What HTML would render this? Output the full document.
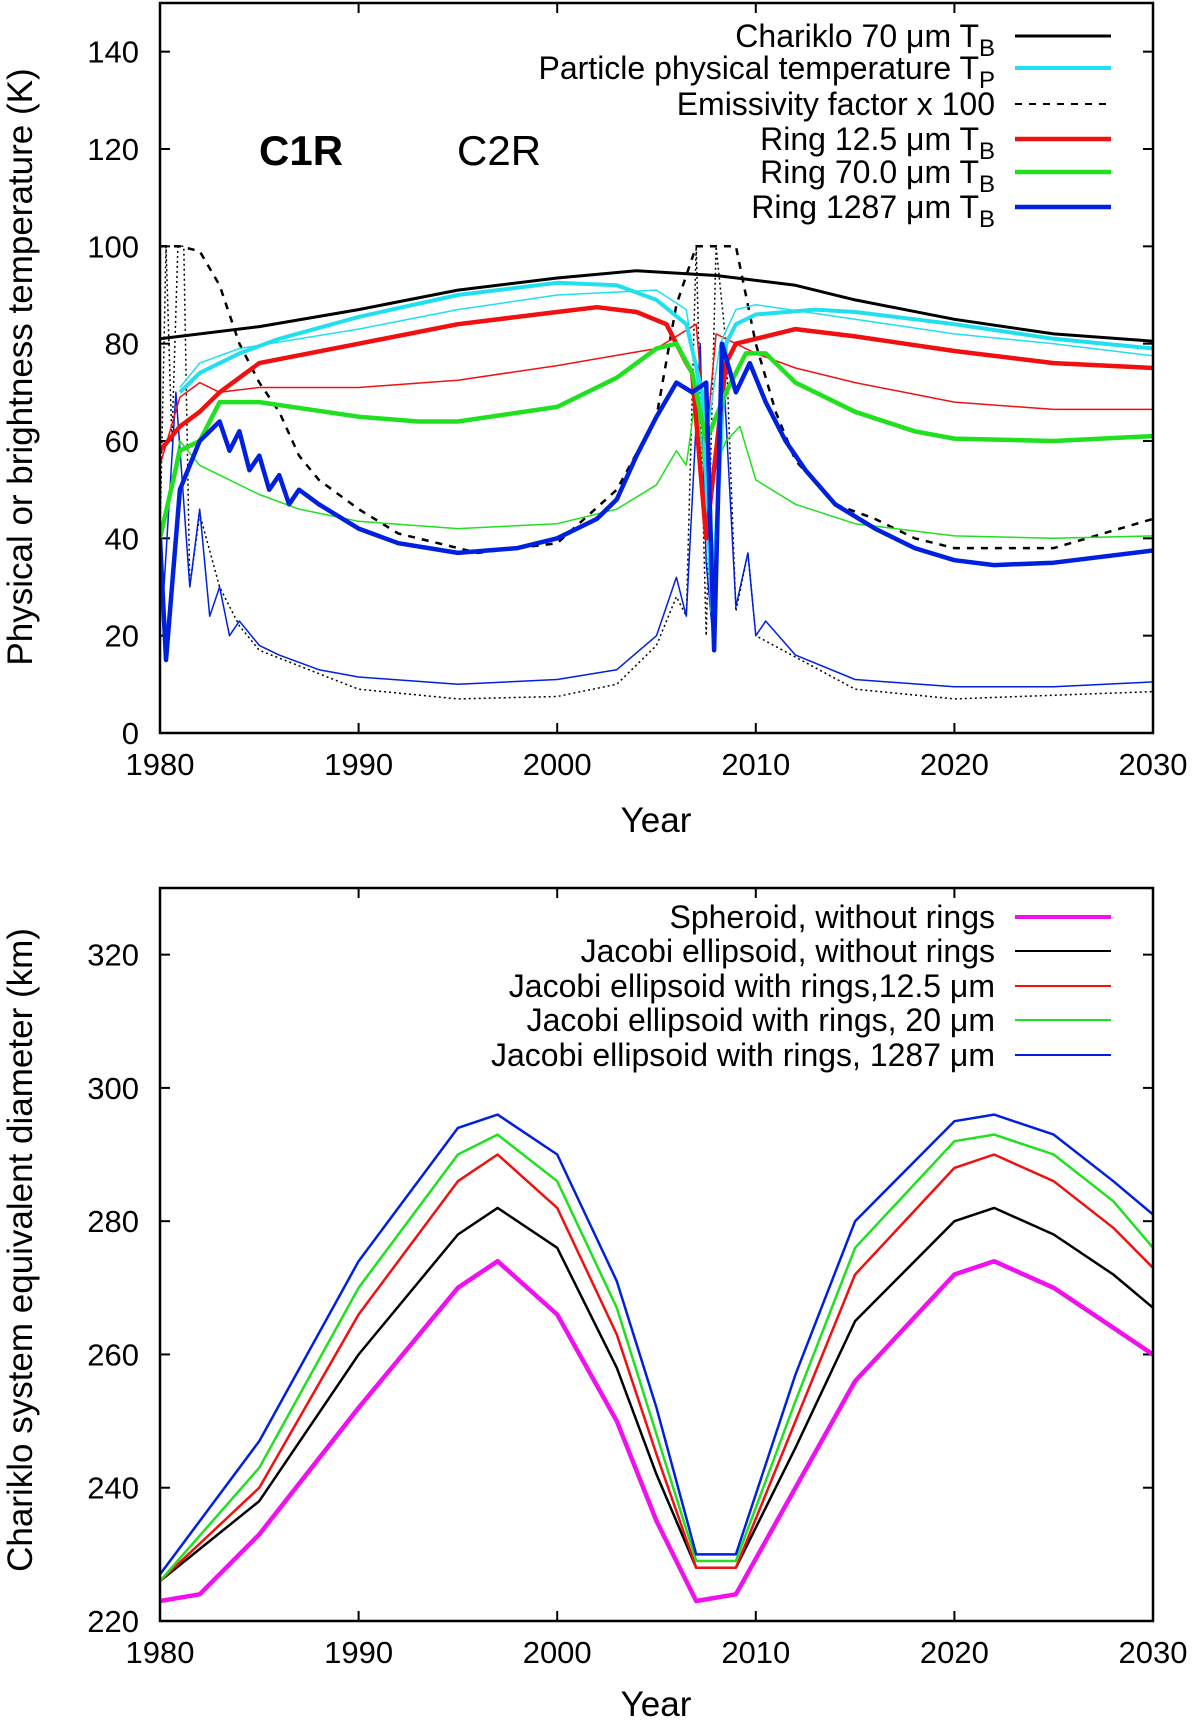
<!DOCTYPE html>
<html><head><meta charset="utf-8"><style>
body{margin:0;background:#fff}
svg{display:block;font-family:"Liberation Sans",sans-serif}
</style></head><body>
<svg id="chart" width="1200" height="1721" viewBox="0 0 1200 1721"></svg>
<script>
// ---- Top panel data ----
const topXTicks=[1980,1990,2000,2010,2020,2030];
const topYTicks=[0,20,40,60,80,100,120,140];
const charikloX=[1980,1985,1990,1995,2000,2004,2008,2012,2015,2020,2025,2030];
const charikloY=[81,83.5,87,91,93.5,95,94,92,89,85,82,80.5];
const tpThickX=[1981,1982,1984,1986,1990,1995,2000,2003,2005,2006.5,2007.3,2007.8,2008.5,2009,2010,2013,2015,2020,2025,2030];
const tpThickY=[70,74,78,81,85.5,90,92.5,92,89,84,70,25,80,84,86,87,86.5,84,81,79];
const tpThinX=[1981,1982,1984,1990,1995,2000,2005,2006.5,2007.5,2008.2,2009,2010,2015,2020,2025,2030];
const tpThinY=[71,76,79,83,87,90,91,87,60,80,87,88,85,82,80,77.5];
const redThickX=[1980,1981,1982,1983,1985,1990,1995,2000,2002,2004,2005.5,2006.5,2006.8,2007.5,2008.5,2009,2010,2012,2015,2020,2025,2030];
const redThickY=[58,63,66,70,76,80,84,86.5,87.5,86.5,84,76,74,40,76,80,81,83,81.5,78.5,76,75];
const redThinX=[1980,1981,1982,1983,1985,1990,1995,2000,2005,2007,2007.5,2008,2009,2010,2012,2015,2020,2025,2030];
const redThinY=[55,69,72,70,71,71,72.5,75.5,79,84,60,82,80,78,75,72,68,66.5,66.5];
const greenThickX=[1980,1981,1982,1983,1985,1990,1993,1995,2000,2003,2005,2006,2006.8,2007.5,2008.5,2009.5,2010.5,2012,2015,2018,2020,2025,2030];
const greenThickY=[40,58,60,68,68,65,64,64,67,73,79,80,74,60,70,78,78,72,66,62,60.5,60,61];
const greenThinX=[1980,1981,1982,1983,1985,1987,1990,1995,2000,2003,2005,2006,2006.5,2007,2007.5,2008.5,2009.2,2010,2012,2015,2020,2025,2030];
const greenThinY=[40,60,55,53,49,46,43.5,42,43,46,51,58,55,70,50,60,63,52,47,43,40.5,40,40.5];
const blueThickX=[1980,1980.3,1981,1982,1983,1983.5,1984,1984.5,1985,1985.5,1986,1986.5,1987,1988,1990,1992,1995,1998,2000,2002,2003,2004,2005,2006,2006.8,2007.5,2007.9,2008.3,2009,2009.7,2010.5,2011.5,2012.5,2014,2016,2018,2020,2022,2025,2030];
const blueThickY=[40,15,50,60,64,58,62,54,57,50,53,47,50,47,42,39,37,38,40,44,48,57,65,72,70,72,17,80,70,76,68,60,54,47,42,38,35.5,34.5,35,37.5];
const blueThinX=[1980,1980.2,1980.8,1981.5,1982,1982.5,1983,1983.5,1984,1985,1986,1988,1990,1995,2000,2003,2005,2006,2006.5,2007.2,2007.5,2007.9,2008.3,2009,2009.6,2010,2010.5,2012,2015,2020,2025,2030];
const blueThinY=[40,30,70,30,46,24,30,20,23,18,16,13,11.5,10,11,13,20,32,24,80,35,17,80,26,37,20,23,16,11,9.5,9.5,10.5];
const dotX=[1980,1980.3,1980.6,1980.9,1981.2,1981.5,1982,1983,1984,1985,1990,1995,2000,2003,2005,2006,2006.5,2007,2007.5,2008,2008.5,2009,2009.6,2010,2015,2020,2030];
const dotY=[40,100,60,100,100,30,45,30,22,17,9,7,7.5,10,18,28,24,100,20,100,80,25,37,20,9,7,8.5];
const emisX=[1980,1981,1982,1983,1984,1985,1986,1987,1988,1990,1992,1994,1996,2000,2003,2005,2006,2007,2008,2009,2010,2011,2012,2014,2016,2018,2020,2025,2030];
const emisY=[100,100,99,92,80,72,66,57,52,46,41,39,37,39,50,65,88,100,100,100,80,66,56,47,44,40,38,38,44];
// ---- Bottom panel data ----
const botYTicks=[220,240,260,280,300,320];
const magX=[1980,1982,1985,1990,1995,1997,2000,2003,2005,2007,2009,2012,2015,2020,2022,2025,2028,2030];
const magY=[223,224,233,252,270,274,266,250,235,223,224,240,256,272,274,270,264,260];
const jacX=[1980,1985,1990,1995,1997,2000,2003,2005,2007,2009,2012,2015,2020,2022,2025,2028,2030];
const jacY=[226,238,260,278,282,276,258,242,228,228,246,265,280,282,278,272,267];
const r125Y=[226,240,266,286,290,282,263,245,228,228,250,272,288,290,286,279,273];
const r20Y=[226,243,270,290,293,286,267,248,229,229,253,276,292,293,290,283,276];
const r1287Y=[227,247,274,294,296,290,271,252,230,230,257,280,295,296,293,286,281];

const NS="http://www.w3.org/2000/svg";
const svg=document.getElementById('chart');
function mk(tag,attrs,parent){const e=document.createElementNS(NS,tag);for(const k in attrs)e.setAttribute(k,attrs[k]);(parent||svg).appendChild(e);return e;}
const L=160,R=1153;
const xS=v=>L+(v-1980)/50*(R-L);
function panel(name,yMin,yMax,top,bot,yTicks){
  const g=mk('g',{});
  
  
  const yS=v=>bot-(v-yMin)/(yMax-yMin)*(bot-top);
  const clip=mk('clipPath',{id:'c'+name},g);mk('rect',{x:L,y:top,width:R-L,height:bot-top},clip);
  topXTicks.forEach(t=>{
    const x=xS(t);
    mk('line',{x1:x,y1:bot,x2:x,y2:bot-10,stroke:'#000','stroke-width':2},g);
    mk('line',{x1:x,y1:top,x2:x,y2:top+10,stroke:'#000','stroke-width':2},g);
    const tx=mk('text',{x:x,y:bot+42,'font-size':31,'text-anchor':'middle'},g);tx.textContent=t;
    
    
  });
  yTicks.forEach(t=>{
    const y=yS(t);
    mk('line',{x1:L,y1:y,x2:L+10,y2:y,stroke:'#000','stroke-width':2},g);
    mk('line',{x1:R,y1:y,x2:R-10,y2:y,stroke:'#000','stroke-width':2},g);
    const tx=mk('text',{x:139,y:y+11,'font-size':31,'text-anchor':'end'},g);tx.textContent=t;
    
    
  });
  return {g,yS,clip:'url(#c'+name+')'};
}
function series(p,name,xs,ys,color,w,dash){
  const d=xs.map((x,i)=>(i?'L':'M')+xS(x).toFixed(1)+' '+p.yS(ys[i]).toFixed(1)).join(' ');
  const a={d:d,fill:'none',stroke:color,'stroke-width':w,'clip-path':p.clip,'stroke-linejoin':'round'};
  if(dash)a['stroke-dasharray']=dash;
  const e=mk('path',a,p.g);
  
  
}
function legend(p,y,label,color,w,dash,name){
  const t=mk('text',{x:995,y:y+11,'font-size':32,'text-anchor':'end','textLength':0},p.g);t.removeAttribute('textLength');t.innerHTML=label;
  
  
  const a={x1:1015,y1:y,x2:1111,y2:y,stroke:color,'stroke-width':w};if(dash)a['stroke-dasharray']=dash;
  const l=mk('line',a,p.g);
  
  
}
// top
const T=panel('top-panel',0,150,3,733,topYTicks);
series(T,'emissivity-line',emisX,emisY,'#000',2.5,'7,7');
series(T,'dotted-line',dotX,dotY,'#000',1.5,'2,3');
series(T,'ring-1287-thin',blueThinX,blueThinY,'#0020e0',1.5);
series(T,'ring-70-thin',greenThinX,greenThinY,'#20e020',1.5);
series(T,'ring-12-thin',redThinX,redThinY,'#f01010',1.5);
series(T,'tp-thin',tpThinX,tpThinY,'#20e0f0',1.5);
series(T,'chariklo-70',charikloX,charikloY,'#000',3);
series(T,'tp-thick',tpThickX,tpThickY,'#20e0f0',4);
series(T,'ring-12-thick',redThickX,redThickY,'#f01010',4.5);
series(T,'ring-70-thick',greenThickX,greenThickY,'#20e020',4.5);
series(T,'ring-1287-thick',blueThickX,blueThickY,'#0020e0',4.5);
mk('rect',{x:L,y:3,width:R-L,height:730,fill:'none',stroke:'#000','stroke-width':2.5},T.g);
const sub=s=>'<tspan font-size="24" dy="9">'+s+'</tspan>';
legend(T,36,'Chariklo 70 μm T'+sub('B'),'#000',3,null,'legend-chariklo');
legend(T,68,'Particle physical temperature T'+sub('P'),'#20e0f0',4,null,'legend-tp');
legend(T,104,'Emissivity factor x 100','#000',2,'7,7','legend-emissivity');
legend(T,139,'Ring 12.5 μm T'+sub('B'),'#f01010',4.5,null,'legend-ring12');
legend(T,172,'Ring 70.0 μm T'+sub('B'),'#20e020',4.5,null,'legend-ring70');
legend(T,207,'Ring 1287 μm T'+sub('B'),'#0020e0',4.5,null,'legend-ring1287');
let t=mk('text',{x:259,y:165,'font-size':42,'font-weight':'bold'},T.g);t.textContent='C1R';


t=mk('text',{x:457,y:165,'font-size':42},T.g);t.textContent='C2R';


t=mk('text',{x:656,y:832,'font-size':35,'text-anchor':'middle'},T.g);t.textContent='Year';


t=mk('text',{x:0,y:0,'font-size':35,'text-anchor':'middle',transform:'translate(32,367) rotate(-90)'},T.g);t.textContent='Physical or brightness temperature (K)';


// bottom
const B=panel('bottom-panel',220,330,888,1621,botYTicks);
series(B,'spheroid-line',magX,magY,'#f010f0',4.5);
series(B,'jacobi-line',jacX,jacY,'#000',2.5);
series(B,'jacobi-12-line',jacX,r125Y,'#f01010',2.5);
series(B,'jacobi-20-line',jacX,r20Y,'#20e020',2.5);
series(B,'jacobi-1287-line',jacX,r1287Y,'#0020e0',2.5);
mk('rect',{x:L,y:888,width:R-L,height:733,fill:'none',stroke:'#000','stroke-width':2.5},B.g);
legend(B,917,'Spheroid, without rings','#f010f0',4,null,'legend-spheroid');
legend(B,951,'Jacobi ellipsoid, without rings','#000',2,null,'legend-jacobi');
legend(B,986,'Jacobi ellipsoid with rings,12.5 μm','#f01010',2,null,'legend-jacobi12');
legend(B,1020,'Jacobi ellipsoid with rings, 20 μm','#20e020',2,null,'legend-jacobi20');
legend(B,1055,'Jacobi ellipsoid with rings, 1287 μm','#0020e0',2,null,'legend-jacobi1287');
t=mk('text',{x:656,y:1716,'font-size':35,'text-anchor':'middle'},B.g);t.textContent='Year';


t=mk('text',{x:0,y:0,'font-size':35,'text-anchor':'middle',transform:'translate(32,1250) rotate(-90)'},B.g);t.textContent='Chariklo system equivalent diameter (km)';


</script>
</body></html>
